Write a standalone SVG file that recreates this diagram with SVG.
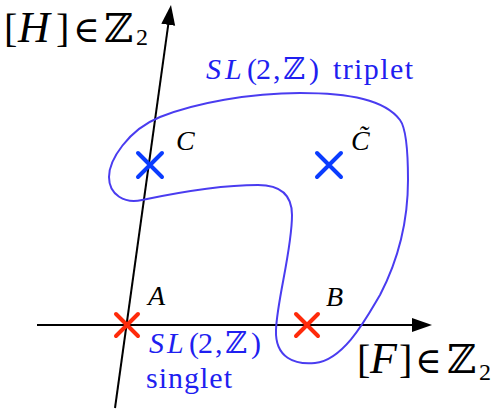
<svg xmlns="http://www.w3.org/2000/svg" width="503" height="409" viewBox="0 0 503 409">
<style>
.t{font-family:"Liberation Serif","DejaVu Serif",serif;fill:#000}
.i{font-style:italic}
.ax{font-size:40px}
.big{font-size:44px}
.el{font-size:36px}
.sub{font-size:24px}
.lbl{font-size:28px}
.bl{font-size:30px}
.blue{fill:#1f1ff0}
.axis{stroke:#000;stroke-width:2;fill:none}
.xr{stroke:#ff2a0a;stroke-width:4;stroke-linecap:round}
.xb{stroke:#0a3cff;stroke-width:4;stroke-linecap:round}
.blob{fill:none;stroke:#4a3cf0;stroke-width:2}
</style>
<defs>
<marker id="ah" markerUnits="userSpaceOnUse" markerWidth="22" markerHeight="16" refX="10" refY="7" orient="auto" viewBox="0 0 22 16">
<path d="M0,0 L20,7 L0,14 z" fill="#000"/>
</marker>
</defs>
<g id="connectors">
<line class="axis" x1="37" y1="325" x2="422" y2="325" marker-end="url(#ah)"/>
<line class="axis" x1="115" y1="408" x2="169.6" y2="14.9" marker-end="url(#ah)"/>
</g>
<g id="triplet">
<path class="blob" d="M109,177 C109,160 128,130 160,117 C195,103 250,93 300,93 C350,93 385,100 400,120 C406,128 408,155 408,180 C408,230 393,270 380,295 C368,315 345,360 315,363 C295,365 275,358 276,330 C277,300 292,250 292,215 C292,195 280,185 258,185 C220,185 180,192 142,200 C125,204 109,195 109,177 Z"/>
<text class="t blue bl" y="79"><tspan class="i" x="206 225">SL</tspan><tspan x="247 256 273">(2,</tspan><tspan x="283">ℤ</tspan><tspan x="309">)</tspan><tspan x="333" textLength="80">triplet</tspan></text>
</g>
<g id="node-C">
<path class="xb" d="M138,153 L162,177 M162,153 L138,177"/>
<text class="t i lbl" x="176" y="150">C</text>
</g>
<g id="node-Ctilde">
<path class="xb" d="M317,153 L341,177 M341,153 L317,177"/>
<text class="t i lbl" x="351" y="150">C&#x303;</text>
</g>
<g id="node-A">
<path class="xr" d="M116,314 L138,336 M138,314 L116,336"/>
<text class="t i lbl" x="148" y="305">A</text>
</g>
<g id="node-B">
<path class="xr" d="M296,314 L318,336 M318,314 L296,336"/>
<text class="t i lbl" x="326" y="306">B</text>
</g>
<g id="singlet">
<text class="t blue bl" y="353"><tspan class="i" x="149 167">SL</tspan><tspan x="189 198 215">(2,</tspan><tspan x="225">ℤ</tspan><tspan x="251">)</tspan></text>
<text class="t blue bl" x="146" y="388" textLength="86">singlet</text>
</g>
<g id="axis-H">
<text class="t ax" y="42"><tspan x="4">[</tspan><tspan class="i big" x="18">H</tspan><tspan x="56">]</tspan><tspan class="el" x="73">∈</tspan><tspan x="104">ℤ</tspan><tspan class="sub" x="136" y="45">2</tspan></text>
</g>
<g id="axis-F">
<text class="t ax" y="373"><tspan x="357">[</tspan><tspan class="i big" x="370">F</tspan><tspan x="399">]</tspan><tspan class="el" x="415">∈</tspan><tspan x="447">ℤ</tspan><tspan class="sub" x="479" y="380">2</tspan></text>
</g>
</svg>
